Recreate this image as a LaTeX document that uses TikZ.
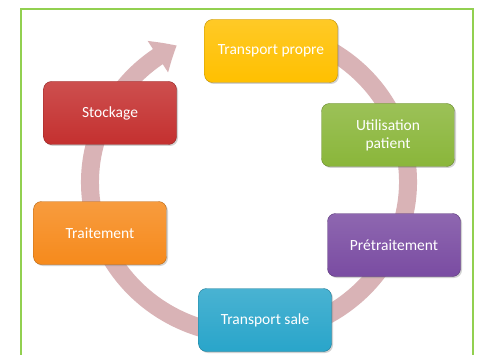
\documentclass[tikz,border=0pt]{standalone}
\usepackage{fontspec}
\setmainfont{Carlito}
\usetikzlibrary{arrows.meta,bending,shadows}

\definecolor{jaune}{HTML}{FFC000}
\definecolor{vert}{HTML}{8AB63A}
\definecolor{violet}{HTML}{7A4CA2}
\definecolor{cyan}{HTML}{29A5CA}
\definecolor{orange}{HTML}{F68A1C}
\definecolor{rouge}{HTML}{C4302F}
\definecolor{anneau}{HTML}{D9B3B6}
\definecolor{cadre}{HTML}{92D050}

\tikzset{
  etape/.style={rounded corners=8pt, minimum width=133pt, minimum height=63pt,
    text=white, font=\fontsize{15.5}{18}\selectfont, align=center,
    draw=#1!75!black, top color=#1!85!white, bottom color=#1,
    drop shadow={opacity=0.35, shadow xshift=1.5pt, shadow yshift=-1.5pt}}
}

\begin{document}
\begin{tikzpicture}[x=1pt,y=1pt]
    \useasboundingbox (0,0) rectangle (482,354);
    \clip (0,0) rectangle (482,354);
    \fill[white] (0,0) rectangle (482,354);
    \draw[cadre, line width=2pt] (21,-10) rectangle (473,345);
    \draw[anneau, line width=18pt, -{Triangle[width=36pt,length=22pt,bend]}]
        (249,172) ++(80:159 and 153) arc [start angle=80, end angle=-243, x radius=159, y radius=153];
    \node[etape=jaune]  (tpropre)       at (271,303) {Transport propre};
    \node[etape=vert]   (utilisation)   at (388,219) {Utilisation\\patient};
    \node[etape=violet] (pretraitement) at (394,109) {Prétraitement};
    \node[etape=cyan]   (tsale)         at (265,34)  {Transport sale};
    \node[etape=orange] (traitement)    at (100,121) {Traitement};
    \node[etape=rouge]  (stockage)      at (110,241) {Stockage};
\end{tikzpicture}
\end{document}
